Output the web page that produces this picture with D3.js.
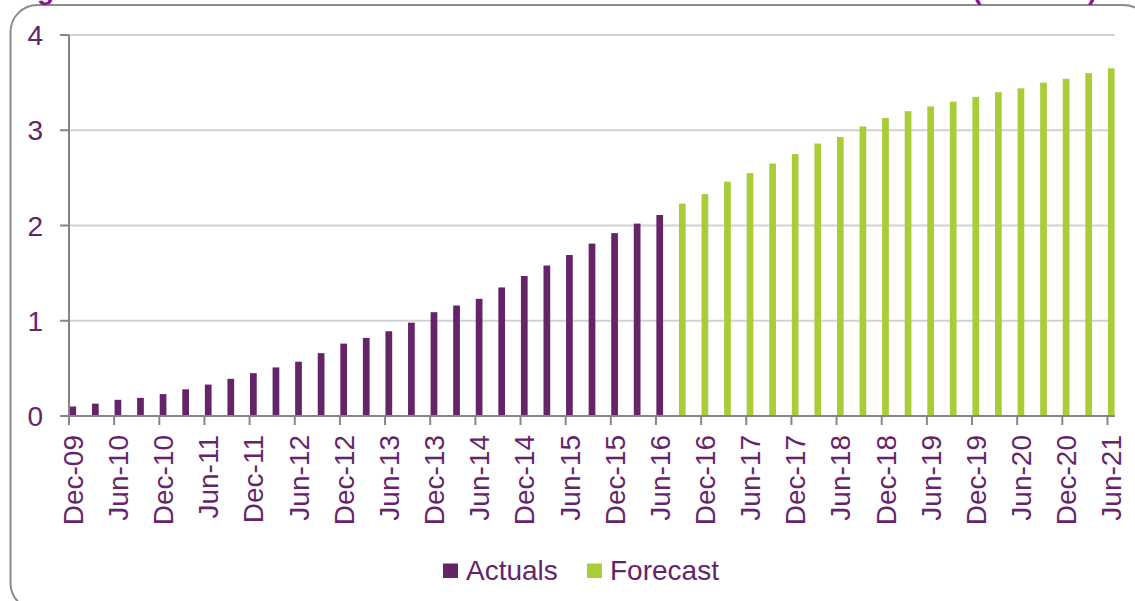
<!DOCTYPE html>
<html>
<head>
<meta charset="utf-8">
<script src="https://cdn.jsdelivr.net/npm/d3@7"></script>
<style>
  html, body { margin: 0; padding: 0; background: #ffffff; }
  svg { display: block; font-family: "Liberation Sans", Arial, sans-serif; }
</style>
</head>
<body>
<svg id="chart" width="1135" height="601"></svg>
<script>
// Quarterly periods, Dec-09 to Jun-21
const quarters = [
  "Dec-09","Mar-10","Jun-10","Sep-10","Dec-10","Mar-11","Jun-11","Sep-11",
  "Dec-11","Mar-12","Jun-12","Sep-12","Dec-12","Mar-13","Jun-13","Sep-13",
  "Dec-13","Mar-14","Jun-14","Sep-14","Dec-14","Mar-15","Jun-15","Sep-15",
  "Dec-15","Mar-16","Jun-16","Sep-16","Dec-16","Mar-17","Jun-17","Sep-17",
  "Dec-17","Mar-18","Jun-18","Sep-18","Dec-18","Mar-19","Jun-19","Sep-19",
  "Dec-19","Mar-20","Jun-20","Sep-20","Dec-20","Mar-21","Jun-21"
];

// Actuals: Dec-09 .. Jun-16
const actuals = [
  0.10, 0.13, 0.17, 0.19, 0.23, 0.28, 0.33, 0.39, 0.45, 0.51,
  0.57, 0.66, 0.76, 0.82, 0.89, 0.98, 1.09, 1.16, 1.23, 1.35,
  1.47, 1.58, 1.69, 1.81, 1.92, 2.02, 2.11
];

// Forecast: Sep-16 .. Jun-21
const forecast = [
  2.23, 2.33, 2.46, 2.55, 2.65, 2.75, 2.86, 2.93, 3.04, 3.13,
  3.20, 3.25, 3.30, 3.35, 3.40, 3.44, 3.50, 3.54, 3.60, 3.65
];

// Axis labels, every six months
const tickLabels = [
  "Dec-09","Jun-10","Dec-10","Jun-11","Dec-11","Jun-12","Dec-12","Jun-13",
  "Dec-13","Jun-14","Dec-14","Jun-15","Dec-15","Jun-16","Dec-16","Jun-17",
  "Dec-17","Jun-18","Dec-18","Jun-19","Dec-19","Jun-20","Dec-20","Jun-21"
];
const yTicks = [0, 1, 2, 3, 4];

const seriesNames = ["Actuals", "Forecast"];
const colors = { Actuals: "#652468", Forecast: "#a8cd38" };
const textColor = "#65246a";
const axisColor = "#858585";
const gridColor = "#d2d2d2";

const rows = quarters.map((q, i) => ({
  label: q,
  month: i * 3,
  series: i < actuals.length ? "Actuals" : "Forecast",
  value: i < actuals.length ? actuals[i] : forecast[i - actuals.length]
}));

const svg = d3.select("#chart");

const plotLeft = 69, plotRight = 1115, plotTop = 35, plotBottom = 416;
const nMonths = (quarters.length - 1) * 3 + 1;

// Month-based date axis: one slot per month
const x = d3.scaleLinear().domain([0, nMonths]).range([plotLeft, plotRight]);
const y = d3.scaleLinear().domain([0, 4]).range([plotBottom, plotTop]);
const slot = x(1) - x(0);

// Outer frame
svg.append("rect")
  .attr("x", 10.5).attr("y", 5)
  .attr("width", 1140).attr("height", 605)
  .attr("rx", 27).attr("ry", 27)
  .attr("fill", "none")
  .attr("stroke", "#8c8c8c")
  .attr("stroke-width", 2);

// Title (sits above the visible area)
svg.append("text")
  .attr("x", 12).attr("y", -1)
  .attr("fill", "#84198c")
  .attr("font-size", 28).attr("font-weight", "bold")
  .text("Figure 1: Cumulative number of connections");
svg.append("text")
  .attr("x", 1097).attr("y", -1)
  .attr("text-anchor", "end")
  .attr("fill", "#84198c")
  .attr("font-size", 28).attr("font-weight", "bold")
  .text("(millions)");

// Gridlines
svg.append("g")
  .selectAll("line")
  .data(yTicks.filter(d => d > 0))
  .join("line")
  .attr("x1", plotLeft).attr("x2", plotRight)
  .attr("y1", d => y(d)).attr("y2", d => y(d))
  .attr("stroke", gridColor)
  .attr("stroke-width", 2);

// Bars
svg.append("g")
  .selectAll("rect")
  .data(rows)
  .join("rect")
  .attr("x", d => x(d.month) + 0.4)
  .attr("width", slot - 0.8)
  .attr("y", d => y(d.value))
  .attr("height", d => y(0) - y(d.value))
  .attr("fill", d => colors[d.series]);

// Y axis
const yAxis = svg.append("g");
yAxis.append("line")
  .attr("x1", plotLeft).attr("x2", plotLeft)
  .attr("y1", y(4)).attr("y2", y(0))
  .attr("stroke", axisColor).attr("stroke-width", 2);
yAxis.selectAll("line.tick")
  .data(yTicks)
  .join("line")
  .attr("class", "tick")
  .attr("x1", plotLeft - 9).attr("x2", plotLeft)
  .attr("y1", d => y(d)).attr("y2", d => y(d))
  .attr("stroke", axisColor).attr("stroke-width", 2);
yAxis.selectAll("text")
  .data(yTicks)
  .join("text")
  .attr("x", 43)
  .attr("y", d => y(d))
  .attr("dy", "0.36em")
  .attr("text-anchor", "end")
  .attr("fill", textColor)
  .attr("font-size", 28)
  .text(d => d);

// X axis
const xAxis = svg.append("g");
xAxis.append("line")
  .attr("x1", plotLeft - 9).attr("x2", plotRight)
  .attr("y1", y(0)).attr("y2", y(0))
  .attr("stroke", axisColor).attr("stroke-width", 2);
const tickData = tickLabels.map((t, k) => ({ label: t, month: k * 6 }));
xAxis.selectAll("line.tick")
  .data(tickData)
  .join("line")
  .attr("class", "tick")
  .attr("x1", d => x(d.month)).attr("x2", d => x(d.month))
  .attr("y1", y(0)).attr("y2", y(0) + 9)
  .attr("stroke", axisColor).attr("stroke-width", 2);
xAxis.selectAll("text")
  .data(tickData)
  .join("text")
  .attr("transform", d => `translate(${x(d.month) + slot / 2},435) rotate(-90)`)
  .attr("dy", "0.36em")
  .attr("text-anchor", "end")
  .attr("fill", textColor)
  .attr("font-size", 28)
  .text(d => d.label);

// Legend
const legendPos = [{ name: "Actuals", x: 443 }, { name: "Forecast", x: 587 }];
const legend = svg.append("g")
  .selectAll("g")
  .data(legendPos)
  .join("g")
  .attr("transform", d => `translate(${d.x},0)`);
legend.append("rect")
  .attr("x", 0).attr("y", 563.5)
  .attr("width", 15).attr("height", 14.5)
  .attr("fill", d => colors[d.name]);
legend.append("text")
  .attr("x", 23).attr("y", 579.5)
  .attr("fill", textColor)
  .attr("font-size", 28)
  .text(d => d.name);
</script>
</body>
</html>
